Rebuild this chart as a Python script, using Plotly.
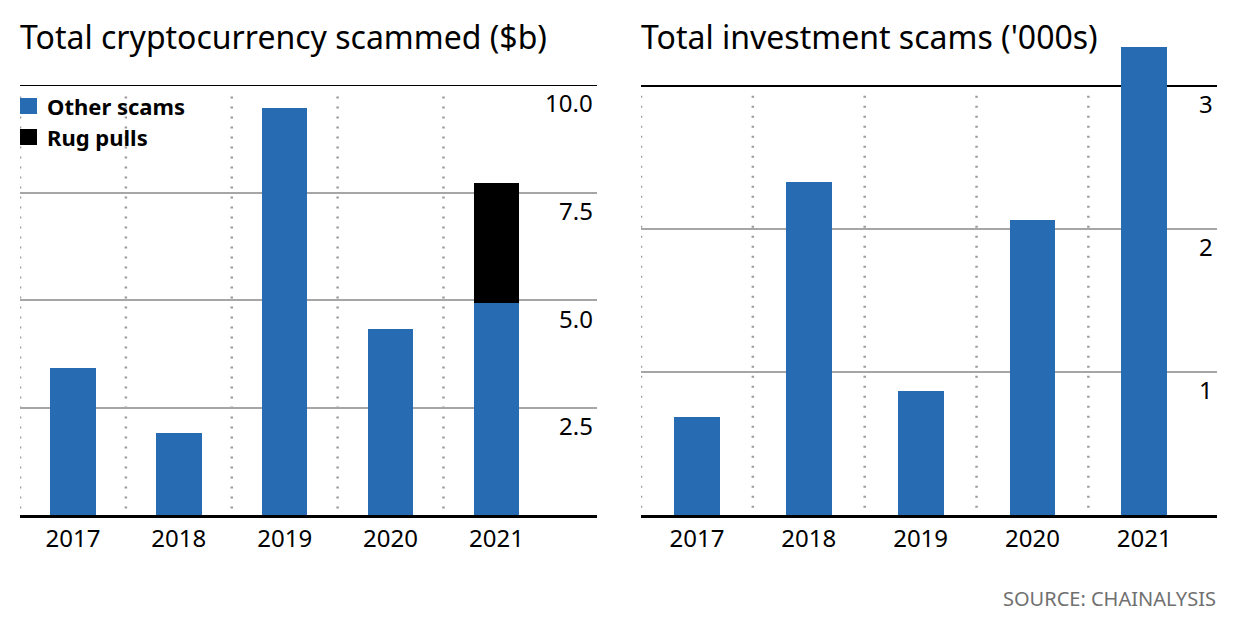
import plotly.graph_objects as go

years = ["2017", "2018", "2019", "2020", "2021"]
other_scams = [3.42, 1.91, 9.47, 4.33, 4.93]
rug_pulls = [None, None, None, None, 2.79]
investment_scams = [0.685, 2.33, 0.867, 2.06, 3.27]

left_ticks = [2.5, 5.0, 7.5, 10.0]
left_tick_text = ["2.5", "5.0", "7.5", "10.0"]
right_ticks = [1, 2, 3]
right_tick_text = ["1", "2", "3"]

BLUE = "#276bb3"
FONT = "Noto Sans"

# page has an 8px body margin; figure occupies page (8,8)-(1240,628)
OFF = 8
W, H = 1240 - OFF, 628 - OFF
def px_x(v):
    return (v - OFF) / W
def px_y(v):
    return (H - (v - OFF)) / H

fig = go.Figure()
fig.add_trace(go.Bar(x=years, y=other_scams, name="Other scams", marker_color=BLUE,
                     marker_line_width=0, width=0.43, xaxis="x", yaxis="y", showlegend=False))
fig.add_trace(go.Bar(x=years, y=rug_pulls, name="Rug pulls", marker_color="#000000",
                     marker_line_width=0, width=0.43, xaxis="x", yaxis="y", showlegend=False))
fig.add_trace(go.Bar(x=years, y=investment_scams, name="Investment scams", marker_color=BLUE,
                     marker_line_width=0, width=0.41, xaxis="x2", yaxis="y2", showlegend=False))

bottom = px_y(515)
fig.update_layout(
    width=W, height=H,
    margin=dict(l=0, r=0, t=0, b=0),
    paper_bgcolor="white", plot_bgcolor="white",
    barmode="stack",
    showlegend=False,
    xaxis=dict(domain=[px_x(20), px_x(597)], range=[-0.5, 4.95], type="category",
               showgrid=False, showline=True, linecolor="black", linewidth=3,
               tickfont=dict(family=FONT, size=24, color="black"), ticks="",
               ticklabelstandoff=0, fixedrange=True),
    yaxis=dict(domain=[bottom, px_y(85)], range=[0, 10], tickvals=[2.5, 5.0, 7.5],
               showticklabels=False, showgrid=True, gridcolor="#a6a6a6", gridwidth=2,
               zeroline=False, showline=False, anchor="x"),
    xaxis2=dict(domain=[px_x(641), px_x(1217)], range=[-0.5, 4.65], type="category",
                showgrid=False, showline=True, linecolor="black", linewidth=3,
                tickfont=dict(family=FONT, size=24, color="black"), ticks="",
                ticklabelstandoff=0, anchor="y2"),
    yaxis2=dict(domain=[bottom, px_y(43)], range=[0, 3.3], tickvals=[1, 2],
                showticklabels=False, showgrid=True, gridcolor="#a6a6a6", gridwidth=2,
                zeroline=False, showline=False, anchor="x2"),
)

shapes = []
# top black rules
shapes.append(dict(type="line", xref="x domain", yref="y", x0=0, x1=1, y0=10, y1=10,
                   line=dict(color="black", width=2), layer="above"))
shapes.append(dict(type="line", xref="x2 domain", yref="y2", x0=0, x1=1, y0=3, y1=3,
                   line=dict(color="black", width=2), layer="below"))
# dotted category separators
for i in range(5):
    shapes.append(dict(type="line", xref="x", yref="y", x0=i - 0.5, x1=i - 0.5, y0=0.15, y1=9.85,
                       line=dict(color="#9a9a9a", width=2.5, dash="2px,8px"), layer="below"))
    shapes.append(dict(type="line", xref="x2", yref="y2", x0=i - 0.5, x1=i - 0.5, y0=0.05, y1=2.96,
                       line=dict(color="#9a9a9a", width=2.5, dash="2px,8px"), layer="below"))

# legend (manual)
legend_items = [("Other scams", BLUE, 106), ("Rug pulls", "#000000", 137)]
ann = []
for name, col, yc in legend_items:
    shapes.append(dict(type="rect", xref="paper", yref="paper",
                       x0=px_x(20), x1=px_x(37), y0=px_y(yc + 8), y1=px_y(yc - 8),
                       fillcolor=col, line=dict(width=0), layer="above"))
    ann.append(dict(xref="paper", yref="paper", x=px_x(45), y=px_y(yc), text="<b>%s</b>" % name,
                    showarrow=False, xanchor="left", yanchor="middle",
                    font=dict(family=FONT, size=22, color="black")))
fig.update_layout(shapes=shapes)

for v, t in zip(left_ticks, left_tick_text):
    ann.append(dict(xref="x domain", yref="y", x=1, y=v, text=t, showarrow=False,
                    xanchor="right", yanchor="middle", yshift=-18, xshift=-2,
                    font=dict(family=FONT, size=24, color="black")))
for v, t in zip(right_ticks, right_tick_text):
    ann.append(dict(xref="x2 domain", yref="y2", x=1, y=v, text=t, showarrow=False,
                    xanchor="right", yanchor="middle", yshift=-18, xshift=-2,
                    font=dict(family=FONT, size=24, color="black")))
ann.append(dict(xref="paper", yref="paper", x=px_x(18), y=px_y(37), text="Total cryptocurrency scammed ($b)",
                showarrow=False, xanchor="left", yanchor="middle",
                font=dict(family=FONT, size=32, color="black")))
ann.append(dict(xref="paper", yref="paper", x=px_x(639), y=px_y(37), text="Total investment scams ('000s)",
                showarrow=False, xanchor="left", yanchor="middle",
                font=dict(family=FONT, size=32, color="black")))
ann.append(dict(xref="paper", yref="paper", x=px_x(1218), y=px_y(598), text="SOURCE: CHAINALYSIS",
                showarrow=False, xanchor="right", yanchor="middle",
                font=dict(family=FONT, size=20, color="#707070")))
fig.update_layout(annotations=ann)

fig.write_html("out.html", config={"displayModeBar": False})
